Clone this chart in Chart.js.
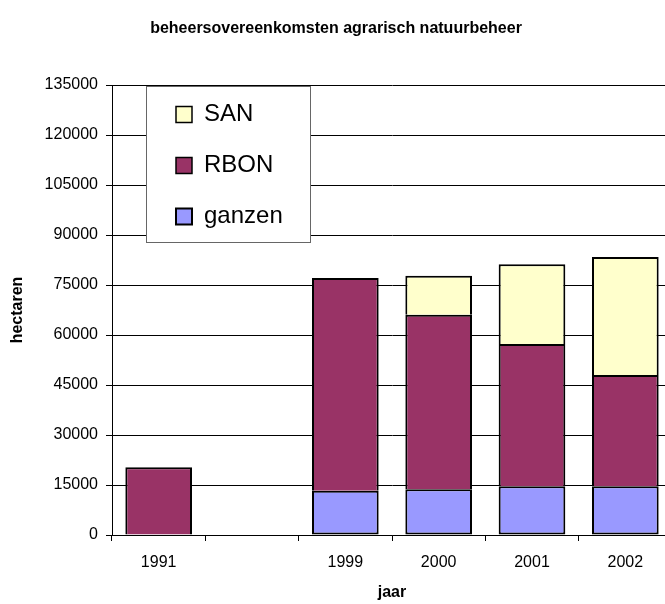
<!DOCTYPE html>
<html>
<head>
<meta charset="utf-8">
<title>beheersovereenkomsten agrarisch natuurbeheer</title>
<script src="https://cdn.jsdelivr.net/npm/chart.js@4/dist/chart.umd.min.js"></script>
<style>
  html, body { margin: 0; padding: 0; background: #fff; overflow: hidden; }
  /* the original plot runs a few pixels past the right edge of the picture */
  #wrap { width: 665px; height: 604px; overflow: hidden; }
</style>
</head>
<body>
<div id="wrap"><canvas id="chart" width="672" height="604"></canvas></div>
<script>
// data (hectares)
const years = ['1991', '', '1999', '2000', '2001', '2002'];
const ganzen = [null, null, 13300, 13700, 14600, 14600];
const rbon = [20300, null, 63800, 52400, 42700, 33400];
const san = [null, null, null, 11700, 23900, 35400];
const yTicks = [0, 15000, 30000, 45000, 60000, 75000, 90000, 105000, 120000, 135000];

const FONT = "'Liberation Sans', Arial, sans-serif";

// legend sits in a white framed box inside the plot, drawn over the gridlines
const legendBox = {
    id: 'legendBox',
    beforeDraw(chart) {
        const ca = chart.chartArea;
        const lg = chart.legend;
        const pad = lg.options.labels.padding;
        lg.left = ca.left + 64 - pad;
        lg.top = ca.top + 17.5 - pad;
    },
    afterDraw(chart) {
        const ca = chart.chartArea;
        const ctx = chart.ctx;
        ctx.save();
        ctx.fillStyle = '#fff';
        ctx.strokeStyle = '#666';
        ctx.lineWidth = 1;
        ctx.fillRect(ca.left + 34.5, ca.top + 1.5, 164, 156);
        ctx.strokeRect(ca.left + 34.5, ca.top + 1.5, 164, 156);
        ctx.restore();
        chart.legend.draw();
    }
};

// segments sit on top of each other, so only the bottom one keeps a lower edge
const edge = { top: 2, left: 2, right: 2, bottom: 0 };

new Chart(document.getElementById('chart'), {
    type: 'bar',
    data: {
        labels: years,
        datasets: [
            { label: 'ganzen', data: ganzen, backgroundColor: '#9999FF', borderColor: '#000', borderWidth: 2, borderSkipped: false },
            { label: 'RBON', data: rbon, backgroundColor: '#993366', borderColor: '#000', borderWidth: edge, borderSkipped: false },
            { label: 'SAN', data: san, backgroundColor: '#FFFFCC', borderColor: '#000', borderWidth: edge, borderSkipped: false }
        ]
    },
    options: {
        responsive: false,
        animation: false,
        layout: { padding: 0 },
        datasets: { bar: { categoryPercentage: 1, barPercentage: 1 / 1.4 } },
        plugins: {
            title: {
                display: true,
                text: 'beheersovereenkomsten agrarisch natuurbeheer',
                color: '#000',
                font: { family: FONT, size: 16, weight: 'bold' },
                padding: { top: 19, bottom: 46.8 }
            },
            legend: {
                position: 'chartArea',
                align: 'start',
                reverse: true,
                labels: {
                    color: '#000',
                    font: { family: FONT, size: 24 },
                    boxWidth: 16,
                    boxHeight: 16,
                    padding: 27
                }
            },
            tooltip: { enabled: false }
        },
        scales: {
            x: {
                stacked: true,
                grid: { drawOnChartArea: false, color: '#000', tickLength: 6 },
                border: { color: '#000', width: 1 },
                ticks: { color: '#000', font: { family: FONT, size: 16 }, padding: 12 },
                title: {
                    display: true, text: 'jaar', color: '#000',
                    font: { family: FONT, size: 16, weight: 'bold' },
                    padding: { top: 0, bottom: 2 }
                },
                afterFit: (s) => { s.height = 69; }
            },
            y: {
                stacked: true,
                min: 0,
                max: 135000,
                afterBuildTicks: (s) => { s.ticks = yTicks.map(v => ({ value: v })); },
                grid: { color: '#000', tickLength: 6 },
                border: { color: '#000', width: 1 },
                ticks: {
                    color: '#000',
                    font: { family: FONT, size: 16 },
                    padding: 8,
                    callback: (v) => String(v)
                },
                title: {
                    display: true, text: 'hectaren', color: '#000',
                    font: { family: FONT, size: 16, weight: 'bold' },
                    padding: { top: 8, bottom: 0 }
                },
                afterFit: (s) => { s.width = 112; }
            }
        }
    },
    plugins: [legendBox]
});
</script>
</body>
</html>
